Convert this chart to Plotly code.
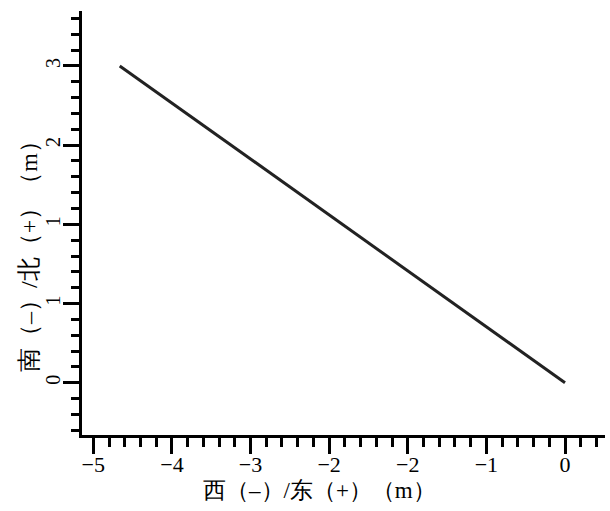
import plotly.graph_objects as go

# data (real units, m)
east_west = [-4.72, 0.0]
south_north = [3.0, 0.0]

x_tickvals = [-5, -25/6, -10/3, -2.5, -5/3, -5/6, 0]
x_ticktext = ["−5", "−4", "−3", "−2", "−2", "−1", "0"]
y_tickvals = [0, 0.75, 1.5, 2.25, 3]
y_ticktext = ["0", "1", "1", "2", "3"]

x_title = "西（–）/东（+）（m）"
y_title = "南（–）/北（+）（m）"

serif = "Liberation Serif"

fig = go.Figure()
fig.add_trace(go.Scatter(x=east_west, y=south_north, mode="lines",
                         line=dict(color="#222222", width=3), showlegend=False,
                         hoverinfo="skip"))

fig.update_layout(
    template=None,
    width=610, height=511,
    margin=dict(l=82, r=5, t=11, b=76),
    paper_bgcolor="white", plot_bgcolor="white",
    font=dict(family=serif, color="black"),
    xaxis=dict(range=[-5.12, 0.424], showgrid=False, zeroline=False, automargin=False,
               showline=True, linecolor="black", linewidth=3,
               ticks="outside", ticklen=16, tickwidth=3, tickcolor="black",
               tickvals=x_tickvals, ticktext=x_ticktext, ticklabelstandoff=-8,
               tickfont=dict(size=22, family=serif, color="black"),
               minor=dict(tick0=0, dtick=1/6, ticks="outside", ticklen=9,
                          tickwidth=3, tickcolor="black", showgrid=False)),
    yaxis=dict(range=[-0.495, 3.52], showgrid=False, zeroline=False, automargin=False,
               showline=True, linecolor="black", linewidth=3,
               ticks="outside", ticklen=16, tickwidth=3, tickcolor="black",
               tickvals=y_tickvals, ticktext=y_ticktext, tickangle=-90,
               ticklabelstandoff=-5,
               tickfont=dict(size=20, family=serif, color="black"),
               minor=dict(tick0=0, dtick=0.15, ticks="outside", ticklen=8,
                          tickwidth=3, tickcolor="black", showgrid=False)),
    annotations=[
        dict(text=x_title, xref="paper", yref="paper", x=(319-82)/523, y=-(490-435)/424,
             xanchor="center", yanchor="middle", showarrow=False,
             font=dict(size=23, family=serif, color="black")),
        dict(text=y_title, xref="paper", yref="paper", x=-(82-29)/523, y=(435-251)/424,
             xanchor="center", yanchor="middle", showarrow=False, textangle=-90,
             font=dict(size=24, family=serif, color="black")),
    ],
)

fig.write_html("out.html", config={"displayModeBar": False},
               post_script="document.body.style.margin='0';")
